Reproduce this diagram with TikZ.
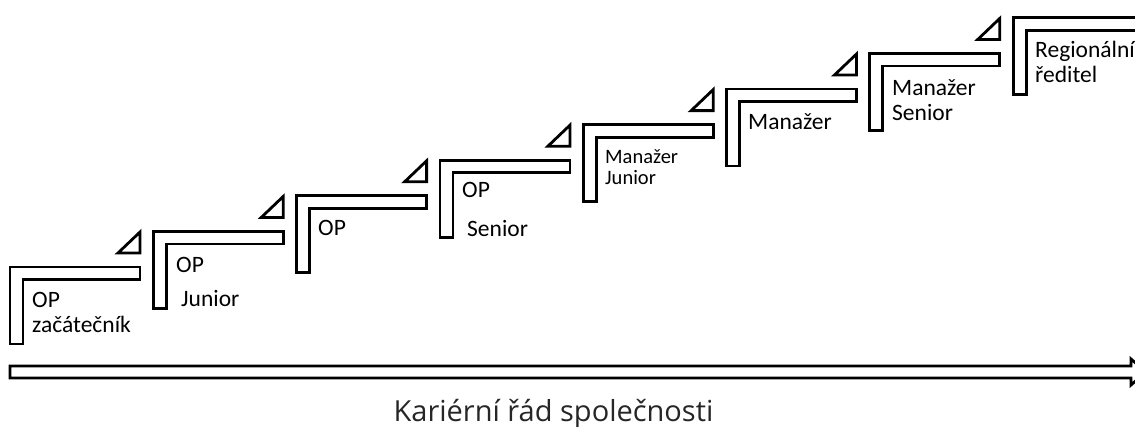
\documentclass[tikz,border=0pt]{standalone}
\usepackage{fontspec}
\setmainfont{Carlito}
\newfontfamily\captionfont{Open Sans}
\begin{document}
\begin{tikzpicture}[x=1pt,y=-1pt,
  stepline/.style={draw=black,line width=2.8pt,line join=miter,fill=white},
  lbl/.style={anchor=base west,inner sep=0pt,font=\fontsize{23.5}{28}\selectfont},
  lblsmall/.style={anchor=base west,inner sep=0pt,font=\fontsize{20.5}{24}\selectfont},
  caption/.style={anchor=base,inner sep=0pt,text=black!85,font=\captionfont\fontsize{29}{34}\selectfont}]
\useasboundingbox (0,0) rectangle (1135,426);
% steps
\foreach \i in {0,...,7}{
  \pgfmathsetmacro\X{10+143.3*\i}
  \pgfmathsetmacro\Y{267-35.6*\i}
  \draw[stepline] (\X,\Y) -- ++(130,0) -- ++(0,12.5) -- ++(-117,0) -- ++(0,64.5) -- ++(-13,0) -- cycle;
}
% triangles
\foreach \i in {0,...,6}{
  \pgfmathsetmacro\X{10+143.3*\i}
  \pgfmathsetmacro\Y{267-35.6*\i}
  \draw[stepline] (\X+108,\Y-14) -- (\X+130,\Y-14) -- (\X+130,\Y-35) -- cycle;
}
% labels
\node[lbl] (t1a) at (32,307) {OP};
\node[lbl] (t1b) at (32,332) {začátečník};
\node[lbl] (t2a) at (176,272) {OP};
\node[lbl] (t2b) at (181,306) {Junior};
\node[lbl] (t3a) at (318,235) {OP};
\node[lbl] (t4a) at (462,197) {OP};
\node[lbl] (t4b) at (467,236) {Senior};
\node[lblsmall] (t5a) at (605,163) {Manažer};
\node[lblsmall] (t5b) at (605,184) {Junior};
\node[lbl] (t6a) at (748,129) {Manažer};
\node[lbl] (t7a) at (892,95) {Manažer};
\node[lbl] (t7b) at (892,120) {Senior};
\node[lbl] (t8a) at (1035,57) {Regionální};
\node[lbl] (t8b) at (1035,82) {ředitel};
% axis arrow
\draw[stepline,fill=none] (10,366) -- (1131,366) -- (1131,359) -- (1146,372) -- (1131,385) -- (1131,378) -- (10,378) -- cycle;
\node[caption] (cap) at (553.5,421) {Kariérní řád společnosti};
\end{tikzpicture}
\end{document}
